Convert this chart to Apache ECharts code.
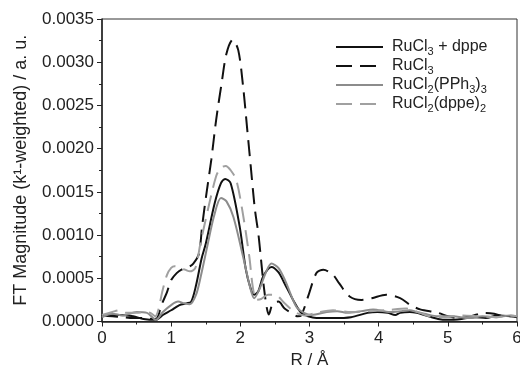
<!DOCTYPE html>
<html>
<head>
<meta charset="utf-8">
<script src="https://cdn.jsdelivr.net/npm/echarts@6/dist/echarts.min.js"></script>
<style>html,body{margin:0;padding:0;background:#fff}#c{width:520px;height:366px}</style>
</head>
<body>
<div id="c"></div>
<script>
// Series names (legend)
var seriesNames = ['RuCl3 + dppe', 'RuCl3', 'RuCl2(PPh3)3', 'RuCl2(dppe)2'];
// Axis ticks
var xTicks = [0, 1, 2, 3, 4, 5, 6];
var yTicks = [0, 0.0005, 0.001, 0.0015, 0.002, 0.0025, 0.003, 0.0035];

// RuCl3 + dppe (black solid)
var rDppe = [0, 0.1, 0.25, 0.45, 0.6, 0.78, 0.88, 1.0, 1.12, 1.22, 1.29, 1.36, 1.44, 1.5, 1.63, 1.72, 1.78, 1.86, 1.99, 2.08, 2.15, 2.2, 2.26, 2.33, 2.45, 2.55, 2.64, 2.79, 2.88, 2.98, 3.1, 3.35, 3.6, 3.84, 3.98, 4.13, 4.24, 4.31, 4.45, 4.55, 4.66, 4.86, 5.0, 5.2, 5.39, 5.55, 5.72, 5.92, 6.0];
var vDppe = [0.00006, 0.00007, 0.000075, 0.00006, 0.00003, 0.00002, 0.000075, 0.00013, 0.00019, 0.00021, 0.00023, 0.00042, 0.00073, 0.0009, 0.00137, 0.0016, 0.00165, 0.0016, 0.0011, 0.0006, 0.00038, 0.00031, 0.00035, 0.00052, 0.00063, 0.00057, 0.00044, 0.00021, 0.0001, 0.00006, 0.00004, 0.00004, 0.00005, 0.0001, 0.00011, 0.0001, 0.000075, 0.0001, 0.00011, 0.0001, 0.000075, 0.00003, 0.00002, 0.00003, 0.00005, 0.00004, 0.00007, 0.00006, 0.00005];

// RuCl3 (black dashed)
var rRuCl3 = [0, 0.15, 0.3, 0.45, 0.6, 0.75, 0.8, 0.86, 0.94, 1.0, 1.08, 1.15, 1.25, 1.32, 1.4, 1.45, 1.51, 1.58, 1.65, 1.73, 1.8, 1.89, 1.97, 2.04, 2.1, 2.15, 2.21, 2.26, 2.3, 2.34, 2.38, 2.41, 2.47, 2.55, 2.64, 2.74, 2.83, 2.88, 2.98, 3.1, 3.2, 3.34, 3.43, 3.58, 3.75, 3.9, 4.11, 4.31, 4.46, 4.6, 4.86, 5.0, 5.15, 5.33, 5.53, 5.67, 5.82, 6.0];
var vRuCl3 = [0.00007, 0.00006, 0.00005, 0.00004, 0.00004, 0.00003, 0.00004, 0.00019, 0.00034, 0.00048, 0.00056, 0.0006, 0.00063, 0.00067, 0.00078, 0.00112, 0.00148, 0.00187, 0.00233, 0.00276, 0.0031, 0.00326, 0.00314, 0.00272, 0.00222, 0.0018, 0.0013, 0.00102, 0.00071, 0.0004, 0.00017, 0.00008, 0.00021, 0.00023, 0.00015, 0.0001, 0.00006, 0.00007, 0.00029, 0.00056, 0.0006, 0.00054, 0.00044, 0.00029, 0.00025, 0.00027, 0.00031, 0.00027, 0.00019, 0.00014, 0.0001, 0.00006, 0.00004, 0.00006, 0.0001, 0.00009, 0.00006, 0.00006];

// RuCl2(PPh3)3 (gray solid)
var rPPh3 = [0, 0.15, 0.3, 0.5, 0.65, 0.78, 0.88, 1.0, 1.1, 1.19, 1.27, 1.36, 1.43, 1.53, 1.62, 1.72, 1.8, 1.9, 2.04, 2.14, 2.2, 2.28, 2.36, 2.45, 2.55, 2.65, 2.81, 2.92, 3.03, 3.25, 3.4, 3.55, 3.75, 3.92, 4.16, 4.33, 4.45, 4.55, 4.66, 4.86, 5.07, 5.3, 5.5, 5.7, 5.9, 6.0];
var vPPh3 = [0.00005, 0.00009, 0.00007, 0.00011, 0.0001, 0.00002, 0.00011, 0.00019, 0.00023, 0.00021, 0.0002, 0.00031, 0.00053, 0.0009, 0.00122, 0.00143, 0.00139, 0.00121, 0.00075, 0.0004, 0.00027, 0.00038, 0.00055, 0.00067, 0.00062, 0.00047, 0.00017, 0.0001, 0.000075, 0.00011, 0.00012, 0.0001, 0.00012, 0.00014, 0.00011, 0.00012, 0.00013, 0.00011, 0.00009, 0.00006, 0.00006, 0.00004, 0.00006, 0.00005, 0.00007, 0.00006];

// RuCl2(dppe)2 (gray dashed)
var rDppe2 = [0, 0.15, 0.25, 0.35, 0.5, 0.6, 0.7, 0.77, 0.82, 0.87, 0.94, 1.0, 1.05, 1.2, 1.27, 1.35, 1.42, 1.53, 1.65, 1.72, 1.79, 1.86, 1.94, 2.03, 2.13, 2.18, 2.23, 2.3, 2.4, 2.5, 2.64, 2.79, 2.93, 3.1, 3.34, 3.6, 3.85, 4.1, 4.4, 4.6, 4.74, 4.95, 5.2, 5.45, 5.7, 5.9, 6.0];
var vDppe2 = [0.000075, 0.00011, 0.00013, 0.0001, 0.0001, 0.00011, 0.0001, 0.00006, 0.00015, 0.00034, 0.00054, 0.00062, 0.00064, 0.0006, 0.00058, 0.00062, 0.00089, 0.00129, 0.00168, 0.00178, 0.0018, 0.00175, 0.00164, 0.00128, 0.00075, 0.0004, 0.00025, 0.00026, 0.00031, 0.00031, 0.00021, 0.00011, 0.00007, 0.0001, 0.00013, 0.00011, 0.00012, 0.00013, 0.00015, 0.0001, 0.00006, 0.00005, 0.00007, 0.00006, 0.00005, 0.00007, 0.00006];

function zip(a, b) { return a.map(function (x, i) { return [x, b[i]]; }); }

var legendRich = {
  'RuCl3 + dppe': 'RuCl{s|3} + dppe',
  'RuCl3': 'RuCl{s|3}',
  'RuCl2(PPh3)3': 'RuCl{s|2}(PPh{s|3}){s|3}',
  'RuCl2(dppe)2': 'RuCl{s|2}(dppe){s|2}'
};

var FONT = 'Liberation Sans, Arial, sans-serif';
var TXT = '#222';

var chart = echarts.init(document.getElementById('c'), null, {renderer: 'canvas'});
function mk(name, data, color, type) {
  return {
    name: name, type: 'line', data: data, showSymbol: false, symbol: 'none',
    smooth: 0.3, animation: false,
    lineStyle: {color: color, width: 2, type: type},
    itemStyle: {color: color}
  };
}
chart.setOption({
  animation: false,
  textStyle: {fontFamily: FONT},
  grid: {left: 102, right: 3, top: 19, bottom: 44.5, show: true, borderColor: '#333', borderWidth: 1,
    containLabel: false, outerBoundsMode: 'none'},
  legend: {
    orient: 'vertical', left: 335, top: 37, padding: 0, itemWidth: 47, itemHeight: 14, itemGap: -1,
    data: seriesNames,
    itemStyle: {opacity: 0},
    formatter: function (n) { return legendRich[n]; },
    textStyle: {
      fontFamily: FONT, fontSize: 16, color: TXT, padding: [0, 0, 0, 4],
      rich: {
        s: {fontSize: 11, fontFamily: FONT, color: TXT, padding: [9, 0, 0, 0], lineHeight: 12}
      }
    }
  },
  xAxis: {
    type: 'value', min: 0, max: 6, interval: 1,
    name: 'R / Å', nameLocation: 'middle', nameGap: 24,
    nameTextStyle: {fontFamily: FONT, fontSize: 17, color: TXT},
    axisLine: {show: true, onZero: false, lineStyle: {color: '#222', width: 1.5}},
    axisTick: {show: true, inside: false, length: 5, lineStyle: {color: '#222', width: 1}},
    minorTick: {show: true, splitNumber: 2, length: 3, lineStyle: {color: '#222', width: 1}},
    splitLine: {show: false},
    axisLabel: {fontFamily: FONT, fontSize: 17, color: TXT, margin: 8,
      formatter: function (v) { return xTicks.indexOf(v) >= 0 ? String(v) : ''; }}
  },
  yAxis: {
    type: 'value', min: 0, max: 0.0035, interval: 0.0005,
    name: 'FT Magnitude (k¹-weighted) / a. u.', nameLocation: 'middle', nameGap: 72,
    nameTextStyle: {fontFamily: FONT, fontSize: 18, color: TXT},
    axisLine: {show: true, lineStyle: {color: '#222', width: 1.5}},
    axisTick: {show: true, inside: false, length: 5, lineStyle: {color: '#222', width: 1}},
    minorTick: {show: true, splitNumber: 2, length: 3, lineStyle: {color: '#222', width: 1}},
    splitLine: {show: false},
    axisLabel: {fontFamily: FONT, fontSize: 17, color: TXT, margin: 8,
      formatter: function (v) {
        for (var i = 0; i < yTicks.length; i++) if (Math.abs(yTicks[i] - v) < 1e-9) return yTicks[i].toFixed(4);
        return '';
      }}
  },
  series: [
    mk(seriesNames[0], zip(rDppe, vDppe), '#111111', 'solid'),
    mk(seriesNames[1], zip(rRuCl3, vRuCl3), '#111111', [16, 8]),
    mk(seriesNames[2], zip(rPPh3, vPPh3), '#8c8c8c', 'solid'),
    mk(seriesNames[3], zip(rDppe2, vDppe2), '#a0a0a0', [16, 8])
  ]
});
</script>
</body>
</html>
